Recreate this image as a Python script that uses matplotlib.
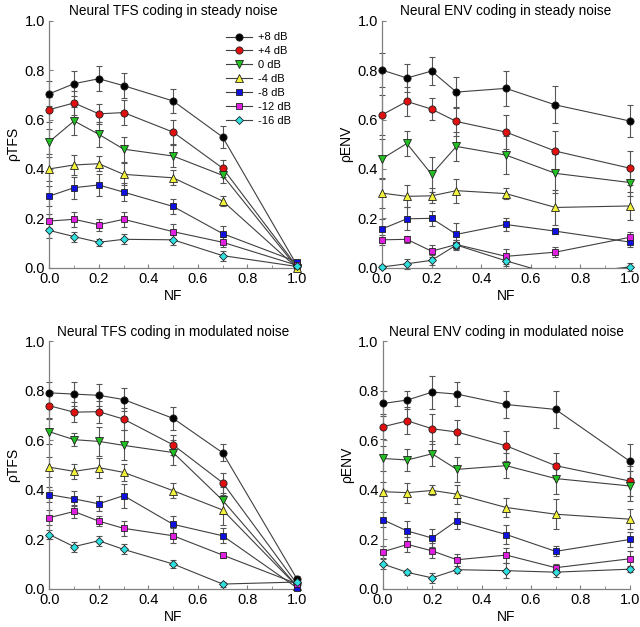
import numpy as np
import matplotlib.pyplot as plt

plt.rcParams['font.family'] = ['Liberation Sans', 'DejaVu Sans']

NF = [0.0, 0.1, 0.2, 0.3, 0.5, 0.7, 1.0]
LABELS = ["+8 dB", "+4 dB", "0 dB", "-4 dB", "-8 dB", "-12 dB", "-16 dB"]
COLORS = ["#000000", "#e01010", "#22c022", "#f2f23a", "#1010e0", "#e020e0", "#30e0e0"]
MARKERS = ["o", "o", "v", "^", "s", "s", "D"]
MSIZES = [5.2, 5.2, 5.2, 5.2, 4.7, 4.7, 4.4]

# Neural TFS coding in steady noise
tfs_steady = [
    [0.704, 0.745, 0.765, 0.737, 0.675, 0.529, 0.010],
    [0.640, 0.667, 0.623, 0.628, 0.549, 0.403, 0.005],
    [0.510, 0.594, 0.540, 0.480, 0.452, 0.374, 0.000],
    [0.400, 0.416, 0.421, 0.378, 0.364, 0.270, 0.000],
    [0.290, 0.324, 0.335, 0.306, 0.248, 0.138, 0.024],
    [0.189, 0.196, 0.174, 0.196, 0.146, 0.103, 0.010],
    [0.151, 0.126, 0.103, 0.115, 0.113, 0.049, 0.005],
]
tfs_steady_err = [
    [0.050, 0.050, 0.050, 0.050, 0.050, 0.045, 0.010],
    [0.050, 0.050, 0.040, 0.050, 0.050, 0.035, 0.005],
    [0.050, 0.055, 0.050, 0.050, 0.045, 0.030, 0.005],
    [0.050, 0.040, 0.030, 0.045, 0.030, 0.020, 0.005],
    [0.040, 0.045, 0.045, 0.035, 0.030, 0.030, 0.005],
    [0.030, 0.030, 0.025, 0.030, 0.030, 0.020, 0.005],
    [0.030, 0.020, 0.015, 0.020, 0.020, 0.020, 0.005],
]

# Neural ENV coding in steady noise
env_steady = [
    [0.800, 0.768, 0.796, 0.711, 0.726, 0.659, 0.594],
    [0.619, 0.673, 0.642, 0.592, 0.549, 0.472, 0.403],
    [0.441, 0.503, 0.378, 0.491, 0.456, 0.382, 0.345],
    [0.302, 0.289, 0.291, 0.312, 0.300, 0.244, 0.250],
    [0.157, 0.198, 0.200, 0.135, 0.175, 0.148, 0.104],
    [0.113, 0.115, 0.067, 0.094, 0.046, 0.063, 0.123],
    [0.003, 0.016, 0.030, 0.092, 0.028, -0.030, 0.003],
]
env_steady_err = [
    [0.070, 0.055, 0.055, 0.063, 0.070, 0.075, 0.065],
    [0.080, 0.060, 0.045, 0.060, 0.070, 0.080, 0.070],
    [0.080, 0.050, 0.070, 0.060, 0.077, 0.080, 0.055],
    [0.060, 0.045, 0.030, 0.048, 0.022, 0.070, 0.055],
    [0.040, 0.047, 0.030, 0.047, 0.025, 0.010, 0.020],
    [0.020, 0.015, 0.025, 0.020, 0.030, 0.020, 0.020],
    [0.010, 0.020, 0.020, 0.020, 0.020, 0.020, 0.015],
]

# Neural TFS coding in modulated noise
tfs_mod = [
    [0.791, 0.786, 0.781, 0.764, 0.688, 0.549, 0.040],
    [0.739, 0.713, 0.715, 0.685, 0.581, 0.428, 0.020],
    [0.634, 0.602, 0.595, 0.579, 0.550, 0.357, 0.010],
    [0.491, 0.474, 0.489, 0.470, 0.396, 0.318, 0.010],
    [0.380, 0.363, 0.343, 0.376, 0.260, 0.214, 0.004],
    [0.287, 0.312, 0.273, 0.244, 0.214, 0.136, 0.020],
    [0.219, 0.170, 0.194, 0.159, 0.100, 0.019, 0.027],
]
tfs_mod_err = [
    [0.045, 0.048, 0.045, 0.045, 0.045, 0.035, 0.010],
    [0.050, 0.040, 0.045, 0.045, 0.040, 0.040, 0.010],
    [0.050, 0.025, 0.060, 0.060, 0.050, 0.055, 0.010],
    [0.040, 0.030, 0.040, 0.035, 0.030, 0.060, 0.010],
    [0.030, 0.030, 0.030, 0.048, 0.035, 0.030, 0.005],
    [0.030, 0.025, 0.020, 0.030, 0.030, 0.010, 0.010],
    [0.020, 0.020, 0.020, 0.020, 0.015, 0.010, 0.010],
]

# Neural ENV coding in modulated noise
env_mod = [
    [0.748, 0.762, 0.794, 0.786, 0.744, 0.724, 0.515],
    [0.654, 0.678, 0.646, 0.633, 0.577, 0.497, 0.435],
    [0.526, 0.520, 0.545, 0.482, 0.497, 0.445, 0.415],
    [0.392, 0.388, 0.397, 0.382, 0.328, 0.301, 0.281],
    [0.279, 0.233, 0.205, 0.275, 0.219, 0.151, 0.199],
    [0.149, 0.179, 0.153, 0.117, 0.136, 0.085, 0.121],
    [0.100, 0.066, 0.044, 0.077, 0.073, 0.067, 0.079],
]
env_mod_err = [
    [0.050, 0.035, 0.067, 0.050, 0.053, 0.074, 0.068],
    [0.050, 0.055, 0.060, 0.050, 0.060, 0.053, 0.060],
    [0.050, 0.045, 0.050, 0.050, 0.050, 0.063, 0.060],
    [0.040, 0.040, 0.020, 0.038, 0.038, 0.060, 0.040],
    [0.030, 0.040, 0.035, 0.035, 0.040, 0.020, 0.030],
    [0.025, 0.030, 0.030, 0.025, 0.030, 0.015, 0.030],
    [0.020, 0.010, 0.020, 0.015, 0.030, 0.020, 0.010],
]

PANELS = [
    ("Neural TFS coding in steady noise", "\u03c1TFS", tfs_steady, tfs_steady_err),
    ("Neural ENV coding in steady noise", "\u03c1ENV", env_steady, env_steady_err),
    ("Neural TFS coding in modulated noise", "\u03c1TFS", tfs_mod, tfs_mod_err),
    ("Neural ENV coding in modulated noise", "\u03c1ENV", env_mod, env_mod_err),
]

# axes boxes in figure fraction
BOXES = [
    [0.077, 0.573, 0.387, 0.394],
    [0.597, 0.573, 0.387, 0.394],
    [0.077, 0.061, 0.387, 0.395],
    [0.598, 0.061, 0.386, 0.395],
]

LINE_C = "#404040"
AX_C = "#808080"

fig = plt.figure(figsize=(6.4, 6.27), dpi=100)

for i, (title, ylab, data, errs) in enumerate(PANELS):
    ax = fig.add_axes(BOXES[i])
    x = np.array(NF)
    for k in range(len(LABELS)):
        y = np.array(data[k])
        e = np.array(errs[k])
        ok = y >= 0
        eb = ax.errorbar(x[ok], y[ok], yerr=e[ok], fmt="none", ecolor="#555555",
                         elinewidth=0.8, capsize=2.5, capthick=0.8, zorder=2)
        for art in eb.lines[1] + eb.lines[2]:
            art.set_clip_on(False)
        ax.plot(x, y, "-", color=LINE_C, lw=0.8, zorder=3)
        ax.plot(x[ok], y[ok], ls="none", marker=MARKERS[k], ms=MSIZES[k],
                mfc=COLORS[k], mec="#202020", mew=0.6, clip_on=False, zorder=4)
        # legend proxy
        ax.plot([], [], "-", color=LINE_C, lw=0.8, marker=MARKERS[k], ms=MSIZES[k],
                mfc=COLORS[k], mec="#202020", mew=0.6, label=LABELS[k])

    ax.set_xlim(0, 1.0)
    ax.set_ylim(0, 1.0)
    ax.set_xticks(np.arange(0, 1.01, 0.2))
    ax.set_xticks(np.arange(0, 1.01, 0.1), minor=True)
    ax.set_yticks(np.arange(0, 1.01, 0.2))
    ax.set_xticklabels([f"{v:.1f}" for v in np.arange(0, 1.01, 0.2)])
    ax.set_yticklabels([f"{v:.1f}" for v in np.arange(0, 1.01, 0.2)])
    ax.tick_params(direction="in", length=3, width=0.8, color=AX_C, labelsize=10.5, pad=3)
    ax.tick_params(which="minor", direction="in", length=2, width=0.6, color=AX_C)
    for s in ("top", "right"):
        ax.spines[s].set_visible(False)
    for s in ("left", "bottom"):
        ax.spines[s].set_color(AX_C)
        ax.spines[s].set_linewidth(0.9)
    ax.set_title(title, fontsize=9.8, pad=4)
    ax.set_xlabel("NF", fontsize=10, labelpad=2)
    ax.set_ylabel(ylab, fontsize=10, labelpad=3)

    if i == 0:
        ax.legend(loc="upper right", bbox_to_anchor=(1.0, 0.975), frameon=False,
                  fontsize=8, handlelength=2.35, labelspacing=0.35,
                  handletextpad=0.6, borderaxespad=0.1)

fig.savefig("out.png", dpi=100)
